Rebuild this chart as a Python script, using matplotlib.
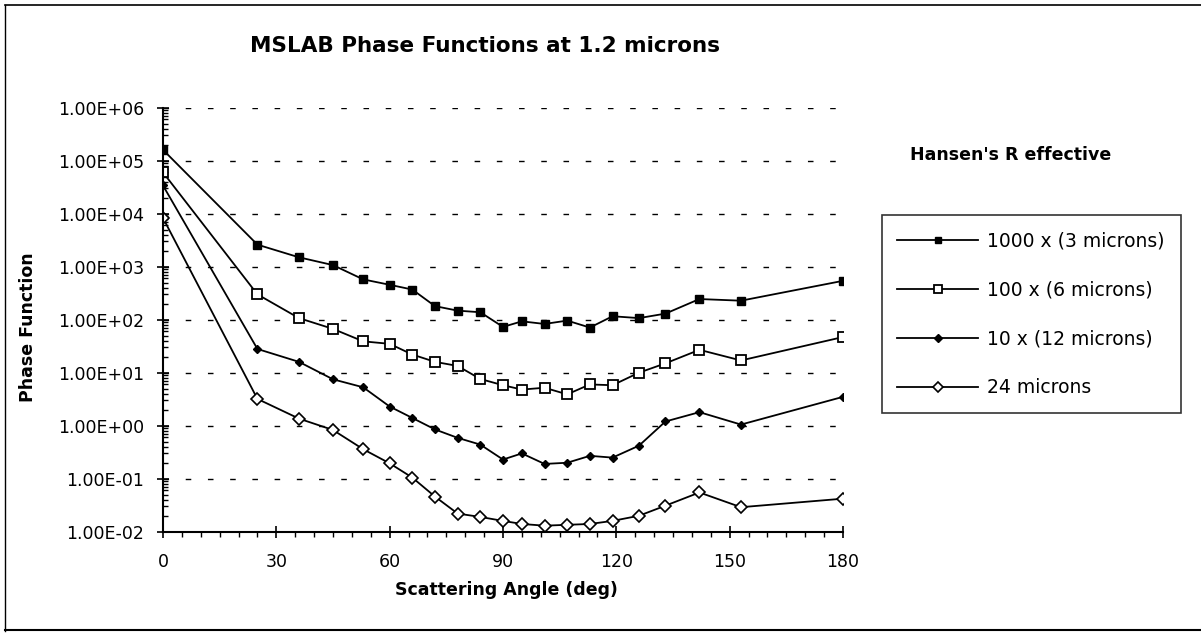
import matplotlib
matplotlib.use('Agg')
import matplotlib.pyplot as plt
from matplotlib.lines import Line2D
from matplotlib.ticker import FixedLocator, MultipleLocator, LogLocator, FuncFormatter, NullFormatter

plt.rcParams['font.family'] = ['DejaVu Sans']

# scattering angles (deg)
angle = [0, 25, 36, 45, 53, 60, 66, 72, 78, 84, 90, 95, 101, 107, 113, 119, 126, 133, 142, 153, 180]

# phase functions
pf_3um = [1.6e5, 2.6e3, 1.5e3, 1.07e3, 575, 455, 370, 180, 148, 138, 73, 93, 83, 96, 71, 116, 107, 130, 245, 228, 540]
pf_6um = [6.0e4, 300, 107, 67, 39, 35, 22, 16, 13.4, 7.6, 5.8, 4.8, 5.2, 3.9, 6.0, 5.8, 10, 15, 27, 17, 47]
pf_12um = [3.4e4, 28, 16, 7.5, 5.3, 2.3, 1.4, 0.85, 0.59, 0.44, 0.23, 0.30, 0.19, 0.20, 0.27, 0.25, 0.42, 1.2, 1.8, 1.05, 3.5]
pf_24um = [8.3e3, 3.2, 1.36, 0.83, 0.36, 0.195, 0.105, 0.046, 0.022, 0.019, 0.016, 0.014, 0.013, 0.0135, 0.014, 0.016, 0.02, 0.031, 0.055, 0.029, 0.042]

labels = ['1000 x (3 microns)', '100 x (6 microns)', '10 x (12 microns)', '24 microns']
x_ticks = [0, 30, 60, 90, 120, 150, 180]
y_ticks = [1e-2, 1e-1, 1e0, 1e1, 1e2, 1e3, 1e4, 1e5, 1e6]

fig = plt.figure(figsize=(12.01, 6.33), dpi=100)
ax = fig.add_axes([0.1357, 0.160, 0.5662, 0.670])

ax.plot(angle, pf_3um, color='black', lw=1.3, marker='s', ms=6, mfc='black', mec='black', label=labels[0])
ax.plot(angle, pf_6um, color='black', lw=1.3, marker='s', ms=7.5, mfc='white', mec='black', mew=1.3, label=labels[1])
ax.plot(angle, pf_12um, color='black', lw=1.3, marker='D', ms=4.5, mfc='black', mec='black', label=labels[2])
ax.plot(angle, pf_24um, color='black', lw=1.3, marker='D', ms=6.5, mfc='white', mec='black', mew=1.2, label=labels[3])

ax.set_yscale('log')
ax.set_xlim(0, 180)
ax.set_ylim(1e-2, 1e6)

ax.xaxis.set_major_locator(FixedLocator(x_ticks))
ax.xaxis.set_minor_locator(MultipleLocator(5))
ax.yaxis.set_major_locator(FixedLocator(y_ticks))
ax.yaxis.set_minor_locator(LogLocator(base=10, subs=range(2, 10), numticks=20))
ax.yaxis.set_major_formatter(FuncFormatter(lambda v, p: f'{v:.2E}'))
ax.yaxis.set_minor_formatter(NullFormatter())

ax.tick_params(axis='x', which='major', direction='inout', length=9, width=1.2, labelsize=12.5, pad=11)
ax.tick_params(axis='x', which='minor', direction='out', length=3.5, width=1)
ax.tick_params(axis='y', which='major', direction='inout', length=9, width=1.2, labelsize=12.5, pad=9)
ax.tick_params(axis='y', which='minor', direction='in', length=3.5, width=1)

ax.grid(True, axis='y', which='major', color='black', linestyle=(0, (4, 12)), linewidth=1.0)
for s in ['top', 'right']:
    ax.spines[s].set_visible(False)
for s in ['left', 'bottom']:
    ax.spines[s].set_linewidth(1.5)

fig.text(0.422, 0.068, 'Scattering Angle (deg)', fontsize=12.5, fontweight='bold', ha='center', va='center')
fig.text(0.0233, 0.483, 'Phase Function', fontsize=12.5, fontweight='bold', rotation=90,
         ha='center', va='center')
fig.text(0.208, 0.927, 'MSLAB Phase Functions at 1.2 microns', fontsize=15.5, fontweight='bold',
         ha='left', va='center')

fig.text(0.758, 0.755, "Hansen's R effective", fontsize=12.5, fontweight='bold', ha='left', va='center')
leg = fig.legend(loc='upper left', bbox_to_anchor=(0.734, 0.660), fontsize=13.5, handlelength=4.27,
                 handletextpad=0.53, labelspacing=1.6, borderpad=0.85, markerscale=0.8,
                 fancybox=False, frameon=True, borderaxespad=0)
leg.get_frame().set_edgecolor('black')
leg.get_frame().set_linewidth(1.2)

# outer border of the chart
fig.add_artist(Line2D([0.004, 1.0], [0.992, 0.992], color='black', lw=1.2, transform=fig.transFigure))
fig.add_artist(Line2D([0.004, 0.004], [0.003, 0.992], color='black', lw=1.0, transform=fig.transFigure))
fig.add_artist(Line2D([0.004, 1.0], [0.004, 0.004], color='black', lw=1.5, transform=fig.transFigure))

fig.savefig('out.png', dpi=100)
